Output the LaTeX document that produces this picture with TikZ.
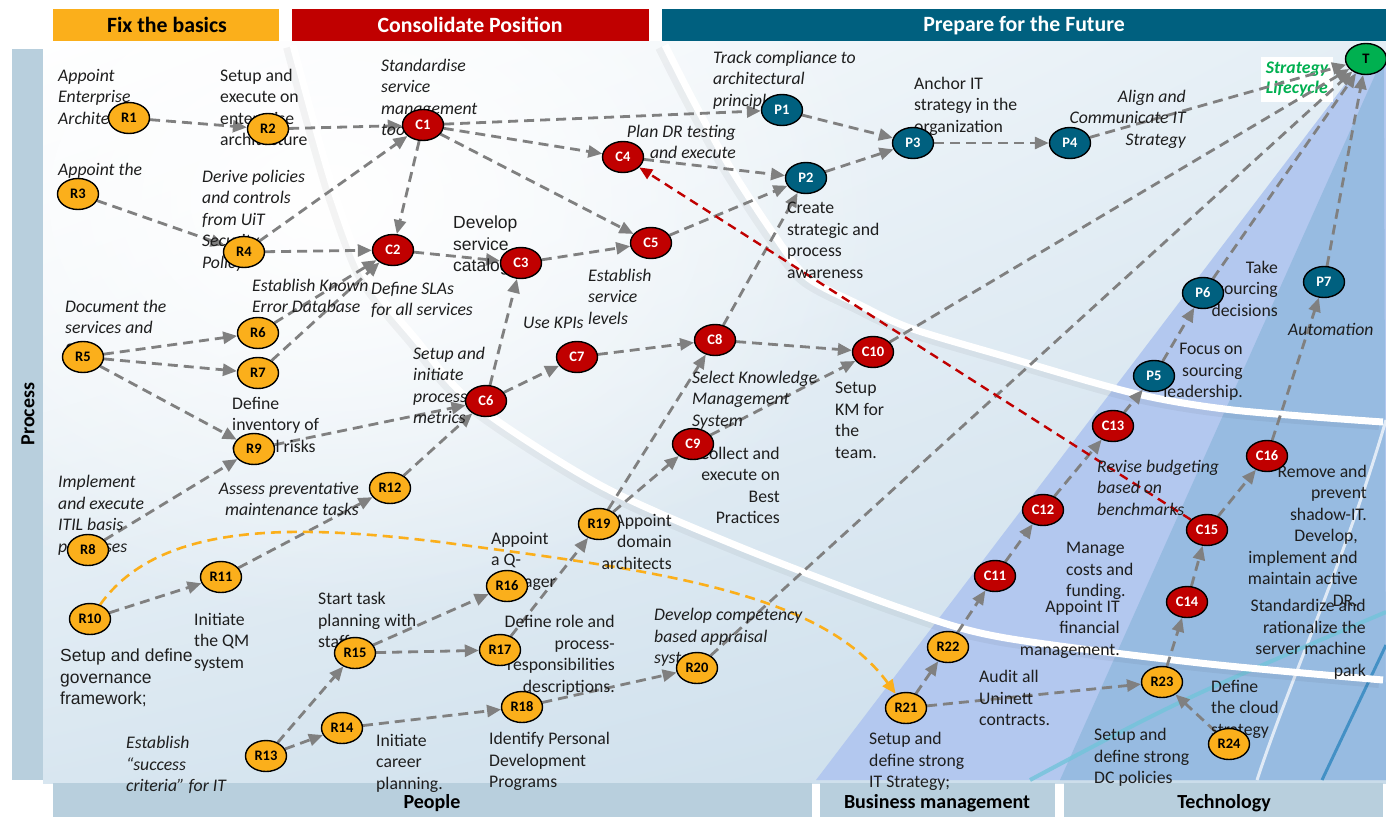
\documentclass[tikz,border=0pt]{standalone}
\usepackage{fontspec}
\setmainfont{Carlito}
\newfontfamily\arialf{Liberation Sans}
\usetikzlibrary{arrows.meta,shapes.geometric,fadings,shadings}
\tikzfading[name=myglow, inner color=transparent!0, outer color=transparent!100]
\pgfdeclarelayer{bg}
\pgfdeclarelayer{edges}
\pgfdeclarelayer{fg}
\pgfsetlayers{bg,edges,main,fg}
\definecolor{corange}{HTML}{FBAF1B}
\definecolor{cred}{HTML}{C00000}
\definecolor{cteal}{HTML}{00607F}
\definecolor{cgreen}{HTML}{00B050}
\definecolor{cbar}{HTML}{B8CFDD}
\definecolor{cedge}{HTML}{808080}
\definecolor{wedgeA}{HTML}{B3C8EF}
\definecolor{wedgeB}{HTML}{97BBE1}
\definecolor{ctext}{HTML}{1E1E1E}
\definecolor{bgUR}{HTML}{E4EEF5}
\definecolor{bgLL}{HTML}{D8E6F0}
\definecolor{bgLR}{HTML}{C9DCEA}
\definecolor{ccyan}{HTML}{72C4DA}
\definecolor{cblue}{HTML}{2F86BE}
\tikzset{
  rn/.style={ellipse, draw=black, line width=1.4pt, fill=corange, minimum width=41pt, minimum height=31pt, inner sep=0pt, font=\fontsize{14.5}{15}\selectfont\bfseries, text=black},
  cn/.style={rn, fill=cred, text=white},
  pn/.style={rn, fill=cteal, text=white},
  tn/.style={rn, fill=cgreen, text=black},
  ed/.style={draw=cedge, line width=2.8pt, dash pattern=on 10pt off 6pt, -{Triangle[length=14pt,width=12pt]}},
  oed/.style={draw=corange, line width=2.6pt, dash pattern=on 10pt off 6pt, -{Triangle[length=14pt,width=12pt]}},
  red/.style={draw=cred, line width=2.4pt, dash pattern=on 9pt off 6pt, -{Triangle[length=13pt,width=11pt]}},
  lb/.style={inner sep=0pt, anchor=north west, align=left, text=ctext, yshift=-2pt, font=\fontsize{17.7}{21.5}\selectfont},
  lbi/.style={lb, font=\fontsize{17.7}{21.5}\selectfont\itshape},
  lr/.style={lb, anchor=north east, align=right},
  lri/.style={lbi, anchor=north east, align=right},
  la/.style={lb, font=\fontsize{17.5}{21.5}\selectfont\arialf},
  hdr/.style={inner sep=0pt, font=\fontsize{21.8}{24}\selectfont\bfseries},
  bar/.style={inner sep=0pt, font=\fontsize{20}{22}\selectfont\bfseries, text=black},
  band/.style={draw=white, line width=7pt},
  bandshadow/.style={draw=black, opacity=0.045, line width=12pt}
}
\begin{document}
\begin{tikzpicture}[x=1pt,y=-1pt]
\useasboundingbox (0,0) rectangle (1386,817);
\begin{pgfonlayer}{bg}
  \fill[white] (0,0) rectangle (1386,817);
  \shade[upper left=white, upper right=bgUR, lower left=bgLL, lower right=bgLR] (43,41) rectangle (1386,783);
  \fill[white, path fading=myglow] (330,200) ellipse [x radius=560, y radius=420];
  % wedges
  \fill[wedgeA] (1362,62) -- (816,780) -- (1386,780) -- (1386,62) -- cycle;
  \fill[wedgeB] (1384,55) -- (1060,780) -- (1386,780) -- cycle;
  % decorative lines
  \draw[white, line width=3pt, opacity=0.7] (1386,420) .. controls (1345,560) and (1290,680) .. (1257,780);
  \draw[ccyan, line width=4pt, opacity=0.8] (1030,780) .. controls (1180,700) .. (1386,612);
  \draw[cblue, line width=3pt, opacity=0.8] (1322,780) -- (1386,645);
  % white bands
  \draw[bandshadow, xshift=-4pt, yshift=-2pt] plot[smooth] coordinates {(293,45) (317,133) (337,200) (367,277) (415,338) (473,403) (600,485) (740,547) (900,608) (1000,637) (1200,663) (1383,680)};
  \draw[band] plot[smooth] coordinates {(293,45) (317,133) (337,200) (367,277) (415,338) (473,403) (600,485) (740,547) (900,608) (1000,637) (1200,663) (1383,680)};
  \draw[bandshadow, xshift=-4pt, yshift=-2pt] plot[smooth] coordinates {(665,45) (693,100) (730,167) (773,233) (807,277) (860,305) (910,328) (1000,355) (1133,393) (1233,410) (1383,422)};
  \draw[band] plot[smooth] coordinates {(665,45) (693,100) (730,167) (773,233) (807,277) (860,305) (910,328) (1000,355) (1133,393) (1233,410) (1383,422)};
\end{pgfonlayer}

% headers and bars
\fill[corange] (53,9) rectangle (279,41);
\node[hdr, text=black] (h1) at (167,25) {Fix the basics};
\fill[cred] (292,9) rectangle (649,41);
\node[hdr, text=white] (h2) at (470,25) {Consolidate Position};
\fill[cteal] (662,9) rectangle (1386,41);
\node[hdr, text=white] (h3) at (1024,26) {Prepare for the Future};
\fill[cbar] (12,49) rectangle (43,780);
\node[bar, rotate=90] (proc) at (28,414) {Process};
\fill[cbar] (53,783) rectangle (812,817);
\node[bar] (b1) at (432,803) {People};
\fill[cbar] (820,783) rectangle (1055,817);
\node[bar] (b2) at (937,803) {Business management};
\fill[cbar] (1064,783) rectangle (1383,817);
\node[bar] (b3) at (1224,803) {Technology};

% labels
\node[lbi] (t1) at (58,67) {Appoint\\Enterprise\\Architect};
\node[lb] (t2) at (220,67) {Setup and\\execute on\\enterprise\\architecture};
\node[lbi] (t3) at (381,57) {Standardise\\service\\management\\tooling};
\node[lbi] (t4) at (58,161) {Appoint the};
\node[lbi] (t5) at (202,168) {Derive policies\\and controls\\from UiT\\Security\\Policy};
\node[la] (t6) at (453,214) {Develop\\service\\catalog};
\node[lbi] (t7) at (713,49) {Track compliance to\\architectural\\principles};
\node[lri] (t8) at (736,123) {Plan DR testing\\and execute};
\node[lb] (t9) at (914,75) {Anchor IT\\strategy in the\\organization};
\node[lri] (t10) at (1186,88) {Align and\\Communicate IT\\Strategy};
\node[lb] (t12) at (787,200) {Create\\strategic and\\process\\awareness};
\node[lbi] (t13) at (252,277) {Establish Known\\Error Database};
\node[lbi] (t14) at (371,280) {Define SLAs\\for all services};
\node[lbi] (t15) at (65,298) {Document the\\services and\\SLAs.};
\node[lbi] (t16) at (588,267) {Establish\\service\\levels};
\node[lbi] (t17) at (523,315) {Use KPIs};
\node[lbi] (t18) at (413,345) {Setup and\\initiate\\process\\metrics};
\node[lb] (t19) at (232,395) {Define\\inventory of\\critical risks};
\node[lbi] (t20) at (692,369) {Select Knowledge\\Management\\System};
\node[lb] (t21) at (835,380) {Setup\\KM for\\the\\team.};
\node[lr] (t22) at (780,445) {Collect and\\execute on\\Best\\Practices};
\node[lbi] (t23) at (58,473) {Implement\\and execute\\ITIL basis\\processes};
\node[lri] (t24) at (359,480) {Assess preventative\\maintenance tasks};
\node[lr] (t25) at (672,512) {Appoint\\domain\\architects};
\node[lb] (t26) at (491,530) {Appoint\\a Q-\\Manager};
\node[la] (t27) at (60,647) {Setup and define\\governance\\framework;};
\node[lb] (t28) at (194,611) {Initiate\\the QM\\system};
\node[lb] (t29) at (318,590) {Start task\\planning with\\staff};
\node[lr] (t30) at (615,613) {Define role and\\process-\\responsibilities\\descriptions.};
\node[lbi] (t31) at (654,606) {Develop competency\\based appraisal\\system};
\node[lbi] (t32) at (126,734) {Establish\\“success\\criteria” for IT};
\node[lb] (t33) at (376,732) {Initiate\\career\\planning.};
\node[lb] (t34) at (489,730) {Identify Personal\\Development\\Programs};
\node[lb] (t35) at (869,730) {Setup and\\define strong\\IT Strategy;};
\node[lb] (t36) at (979,668) {Audit all\\Uninett\\contracts.};
\node[lr] (t37) at (1120,598) {Appoint IT\\financial\\management.};
\node[lb] (t38) at (1066,540) {Manage\\costs and\\funding.};
\node[lbi] (t39) at (1097,458) {Revise budgeting\\based on\\benchmarks};
\node[lr] (t40) at (1278,259) {Take\\sourcing\\decisions};
\node[lr] (t41) at (1243,341) {Focus on\\sourcing\\leadership.};
\node[lbi] (t42) at (1288,321) {Automation};
\node[lr] (t43) at (1367,463) {Remove and\\prevent\\shadow-IT.};
\node[lr] (t43b) at (1358,527) {Develop,\\implement and\\maintain active\\DR.};
\node[lr] (t44) at (1366,597) {Standardize and\\rationalize the\\server machine\\park};
\node[lb] (t45) at (1211,678) {Define\\the cloud\\strategy};
\node[lb] (t46) at (1094,726) {Setup and\\define strong\\DC policies};

% nodes
\begin{pgfonlayer}{fg}
\node[rn] (R1) at (129,118) {R1};
\node[rn] (R2) at (268,129) {R2};
\node[cn] (C1) at (423,125) {C1};
\node[rn] (R3) at (78,194) {R3};
\node[rn] (R4) at (244,252) {R4};
\node[cn] (C2) at (393,250) {C2};
\node[cn] (C3) at (521,263) {C3};
\node[cn] (C4) at (623,157) {C4};
\node[cn] (C5) at (651,243) {C5};
\node[pn] (P1) at (782,110) {P1};
\node[pn] (P2) at (806,178) {P2};
\node[pn] (P3) at (913,143) {P3};
\node[pn] (P4) at (1070,143) {P4};
\node[tn] (T) at (1366,59) {T};
\node[rn] (R5) at (83,357) {R5};
\node[rn] (R6) at (258,333) {R6};
\node[rn] (R7) at (258,373) {R7};
\node[rn] (R9) at (254,449) {R9};
\node[rn] (R8) at (88,550) {R8};
\node[rn] (R10) at (90,619) {R10};
\node[rn] (R11) at (221,577) {R11};
\node[rn] (R12) at (390,488) {R12};
\node[cn] (C6) at (486,401) {C6};
\node[cn] (C7) at (577,357) {C7};
\node[cn] (C8) at (715,340) {C8};
\node[cn] (C10) at (873,352) {C10};
\node[cn] (C9) at (693,444) {C9};
\node[rn] (R19) at (599,524) {R19};
\node[rn] (R16) at (507,586) {R16};
\node[rn] (R15) at (355,653) {R15};
\node[rn] (R17) at (500,650) {R17};
\node[rn] (R14) at (342,728) {R14};
\node[rn] (R13) at (266,756) {R13};
\node[rn] (R18) at (522,707) {R18};
\node[rn] (R20) at (697,668) {R20};
\node[rn] (R21) at (906,708) {R21};
\node[rn] (R22) at (948,647) {R22};
\node[cn] (C11) at (995,576) {C11};
\node[cn] (C12) at (1043,510) {C12};
\node[cn] (C13) at (1113,426) {C13};
\node[pn] (P5) at (1154,376) {P5};
\node[pn] (P6) at (1203,293) {P6};
\node[pn] (P7) at (1324,282) {P7};
\node[cn] (C16) at (1267,456) {C16};
\node[cn] (C15) at (1207,530) {C15};
\node[cn] (C14) at (1187,602) {C14};
\node[rn] (R23) at (1162,682) {R23};
\node[rn] (R24) at (1229,744) {R24};
\end{pgfonlayer}

% edges
\begin{pgfonlayer}{edges}
\node[fill=white, inner sep=0pt, minimum width=72pt, minimum height=45pt, align=left, text=cgreen, font=\fontsize{17.7}{20.5}\selectfont\bfseries\itshape] (sl) at (1297,79) {Strategy\\Lifecycle};
\foreach \a/\b in {R1/R2, R2/C1, C1/P1, C1/C4, C1/C5, C1/C2, R3/R4, R4/C1, R4/C2, C2/C3, C3/C5, C4/P2, C5/P2, P1/P3, P2/P3, P3/P4, P4/T, R5/R6, R5/R7, R5/R9, R6/C2, R7/C2, R8/R9, R9/C6, R12/C6, R10/R11, R11/R12, C6/C3, C6/C7, C7/C8, C8/C10, C8/P2, C9/C10, R19/C8, R19/C9, R17/R19, R13/R15, R13/R14, R15/R16, R15/R17, R14/R18, R18/R20, R20/T, C10/T, P6/T, P7/T, R21/R22, R21/R23, R22/C11, C11/C12, C12/C13, C13/P5, P5/P6, R23/C14, C14/C15, C15/C16, C16/P7, R24/R23}
  \draw[ed] (\a) -- (\b);
\draw[oed] (R10) .. controls (160,520) and (300,525) .. (440,542) .. controls (650,570) and (820,590) .. (R21);
\draw[red] (C15) -- (C4);
\end{pgfonlayer}
\end{tikzpicture}
\end{document}
